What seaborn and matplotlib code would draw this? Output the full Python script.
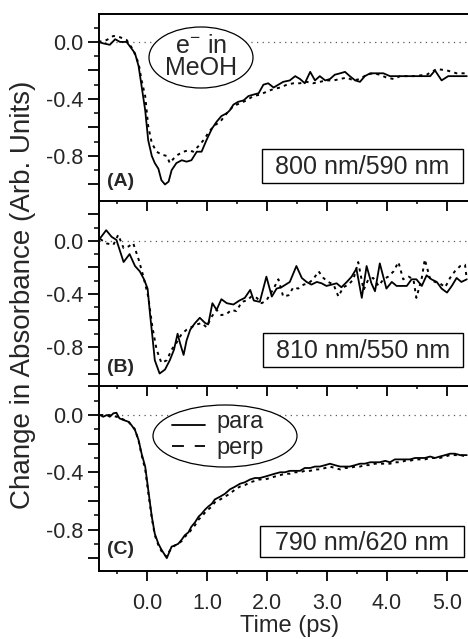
import numpy as np
import pandas as pd
import matplotlib
matplotlib.use("Agg")
import matplotlib.pyplot as plt
import seaborn as sns
from matplotlib.patches import Ellipse, Rectangle
from matplotlib.lines import Line2D

# ---------------- data ----------------
tA_para = [-0.81, -0.73, -0.62, -0.53, -0.45, -0.34, -0.26, -0.20, -0.14, -0.09, -0.03, 0.02, 0.08, 0.13,
           0.19, 0.24, 0.30, 0.36, 0.41, 0.49, 0.58, 0.66, 0.74, 0.83, 0.91, 0.99, 1.08, 1.16, 1.24, 1.33,
           1.38, 1.44, 1.52, 1.61, 1.69, 1.77, 1.86, 1.94, 2.02, 2.11, 2.19, 2.27, 2.38, 2.47, 2.55, 2.63,
           2.72, 2.80, 2.88, 2.97, 3.05, 3.13, 3.22, 3.30, 3.38, 3.47, 3.55, 3.63, 3.72, 3.83, 3.94, 4.05,
           4.22, 4.38, 4.55, 4.72, 4.80, 4.91, 5.02, 5.16, 5.33]
yA_para = [0.00, -0.01, -0.02, 0.019, 0.00, 0.00, -0.045, -0.08, -0.17, -0.31, -0.48, -0.69, -0.80, -0.85,
           -0.89, -0.97, -1.00, -0.98, -0.90, -0.85, -0.83, -0.84, -0.83, -0.77, -0.77, -0.69, -0.61, -0.56,
           -0.52, -0.50, -0.48, -0.44, -0.42, -0.41, -0.38, -0.37, -0.36, -0.30, -0.29, -0.32, -0.30, -0.28,
           -0.27, -0.24, -0.26, -0.29, -0.21, -0.27, -0.24, -0.27, -0.26, -0.23, -0.22, -0.21, -0.24, -0.27,
           -0.28, -0.24, -0.22, -0.22, -0.22, -0.24, -0.24, -0.24, -0.24, -0.24, -0.20, -0.27, -0.24, -0.24,
           -0.24]
tA_perp = [-0.81, -0.67, -0.56, -0.45, -0.34, -0.23, -0.14, -0.09, -0.03, 0.02, 0.08, 0.16, 0.24, 0.33,
           0.38, 0.44, 0.52, 0.61, 0.69, 0.77, 0.86, 0.94, 1.02, 1.11, 1.22, 1.33, 1.44, 1.55, 1.66, 1.77,
           1.88, 1.99, 2.11, 2.22, 2.33, 2.44, 2.55, 2.66, 2.77, 2.88, 2.99, 3.11, 3.22, 3.33, 3.44, 3.55,
           3.66, 3.77, 3.88, 3.99, 4.11, 4.22, 4.44, 4.66, 4.83, 5.00, 5.16, 5.33]
yA_perp = [0.00, 0.014, 0.042, 0.033, 0.014, -0.056, -0.15, -0.27, -0.38, -0.59, -0.71, -0.77, -0.79, -0.80,
           -0.85, -0.82, -0.79, -0.77, -0.76, -0.77, -0.73, -0.69, -0.64, -0.59, -0.56, -0.50, -0.45, -0.43,
           -0.41, -0.38, -0.37, -0.35, -0.33, -0.32, -0.30, -0.29, -0.29, -0.28, -0.29, -0.28, -0.27, -0.27,
           -0.26, -0.25, -0.27, -0.26, -0.23, -0.22, -0.23, -0.25, -0.26, -0.24, -0.24, -0.23, -0.19, -0.20,
           -0.22, -0.22]

tB_para = [-0.78, -0.68, -0.59, -0.51, -0.39, -0.29, -0.20, -0.12, -0.05, 0.01, 0.05, 0.09, 0.13, 0.21,
           0.30, 0.38, 0.45, 0.51, 0.55, 0.61, 0.66, 0.72, 0.80, 0.88, 0.97, 1.02, 1.09, 1.16, 1.24, 1.33,
           1.44, 1.54, 1.63, 1.72, 1.78, 1.88, 1.99, 2.08, 2.16, 2.24, 2.38, 2.49, 2.58, 2.66, 2.74, 2.83,
           2.91, 2.99, 3.08, 3.16, 3.24, 3.33, 3.41, 3.49, 3.58, 3.66, 3.74, 3.80, 3.88, 3.99, 4.08, 4.16,
           4.24, 4.33, 4.41, 4.49, 4.58, 4.66, 4.74, 4.83, 4.91, 5.00, 5.08, 5.16, 5.24, 5.33]
yB_para = [0.02, 0.08, 0.03, 0.007, -0.16, -0.10, -0.19, -0.23, -0.29, -0.36, -0.55, -0.72, -0.90, -1.00,
           -0.97, -0.90, -0.82, -0.70, -0.77, -0.86, -0.75, -0.67, -0.62, -0.58, -0.62, -0.63, -0.47, -0.52,
           -0.44, -0.47, -0.48, -0.45, -0.43, -0.37, -0.45, -0.46, -0.27, -0.42, -0.36, -0.35, -0.31, -0.19,
           -0.28, -0.31, -0.33, -0.31, -0.32, -0.34, -0.33, -0.32, -0.35, -0.31, -0.27, -0.21, -0.43, -0.19,
           -0.32, -0.38, -0.17, -0.36, -0.31, -0.34, -0.34, -0.34, -0.29, -0.29, -0.34, -0.26, -0.29, -0.31,
           -0.36, -0.39, -0.34, -0.28, -0.31, -0.29]
tB_perp = [-0.78, -0.67, -0.56, -0.48, -0.39, -0.31, -0.23, -0.14, -0.06, 0.02, 0.09, 0.16, 0.24, 0.33,
           0.41, 0.49, 0.58, 0.66, 0.74, 0.83, 0.91, 0.99, 1.08, 1.16, 1.24, 1.33, 1.41, 1.49, 1.58, 1.66,
           1.74, 1.83, 1.91, 1.99, 2.11, 2.19, 2.27, 2.36, 2.44, 2.52, 2.61, 2.69, 2.77, 2.86, 2.94, 3.02,
           3.11, 3.19, 3.27, 3.36, 3.44, 3.52, 3.61, 3.69, 3.77, 3.86, 3.94, 4.02, 4.11, 4.19, 4.27, 4.36,
           4.44, 4.49, 4.58, 4.63, 4.72, 4.80, 4.88, 4.97, 5.05, 5.13, 5.22, 5.30, 5.33]
yB_perp = [0.013, -0.02, -0.03, 0.045, -0.055, -0.043, -0.018, -0.14, -0.27, -0.42, -0.65, -0.82, -0.92, -0.90,
           -0.82, -0.77, -0.70, -0.67, -0.65, -0.63, -0.62, -0.65, -0.57, -0.52, -0.56, -0.55, -0.52, -0.53,
           -0.46, -0.45, -0.42, -0.43, -0.47, -0.45, -0.36, -0.29, -0.42, -0.41, -0.35, -0.36, -0.33, -0.32,
           -0.29, -0.23, -0.28, -0.31, -0.33, -0.42, -0.35, -0.33, -0.29, -0.16, -0.37, -0.29, -0.28, -0.34,
           -0.29, -0.27, -0.23, -0.16, -0.29, -0.27, -0.29, -0.43, -0.28, -0.14, -0.29, -0.31, -0.32, -0.35,
           -0.28, -0.23, -0.19, -0.18, -0.29]

tC_para = [-0.78, -0.73, -0.67, -0.62, -0.56, -0.51, -0.46, -0.39, -0.31, -0.26, -0.20, -0.14, -0.09, -0.03,
           0.02, 0.08, 0.13, 0.19, 0.24, 0.30, 0.33, 0.36, 0.41, 0.47, 0.52, 0.58, 0.63, 0.69, 0.74, 0.80,
           0.86, 0.91, 0.97, 1.02, 1.08, 1.13, 1.22, 1.30, 1.38, 1.47, 1.55, 1.63, 1.72, 1.80, 1.88, 1.97,
           2.05, 2.13, 2.22, 2.30, 2.38, 2.47, 2.55, 2.63, 2.72, 2.80, 2.88, 2.97, 3.05, 3.13, 3.22, 3.30,
           3.38, 3.47, 3.55, 3.63, 3.72, 3.80, 3.88, 3.97, 4.05, 4.13, 4.22, 4.30, 4.38, 4.47, 4.55, 4.63,
           4.72, 4.80, 4.88, 4.97, 5.05, 5.13, 5.22, 5.33]
yC_para = [0.00, -0.012, 0.00, -0.012, 0.012, 0.016, -0.023, -0.035, -0.047, -0.07, -0.105, -0.175, -0.27,
           -0.36, -0.52, -0.71, -0.83, -0.90, -0.94, -0.98, -1.00, -0.97, -0.92, -0.91, -0.90, -0.87, -0.84,
           -0.82, -0.78, -0.75, -0.71, -0.69, -0.66, -0.64, -0.62, -0.59, -0.57, -0.55, -0.52, -0.50, -0.48,
           -0.47, -0.45, -0.44, -0.44, -0.43, -0.42, -0.41, -0.40, -0.40, -0.39, -0.39, -0.39, -0.37, -0.37,
           -0.36, -0.36, -0.35, -0.34, -0.35, -0.36, -0.36, -0.36, -0.35, -0.34, -0.34, -0.33, -0.33, -0.33,
           -0.32, -0.33, -0.31, -0.31, -0.31, -0.31, -0.30, -0.30, -0.30, -0.29, -0.30, -0.29, -0.28, -0.27,
           -0.27, -0.28, -0.28]
tC_perp = [-0.78, -0.60, -0.45, -0.30, -0.20, -0.14, -0.09, -0.03, 0.02, 0.08, 0.13, 0.19, 0.24, 0.30, 0.33,
           0.36, 0.41, 0.47, 0.52, 0.58, 0.63, 0.69, 0.74, 0.80, 0.86, 0.91, 0.97, 1.02, 1.08, 1.13, 1.22,
           1.30, 1.38, 1.47, 1.55, 1.63, 1.72, 1.80, 1.88, 1.97, 2.05, 2.13, 2.22, 2.30, 2.38, 2.47, 2.55,
           2.63, 2.72, 2.80, 2.88, 2.97, 3.05, 3.13, 3.22, 3.30, 3.38, 3.47, 3.55, 3.63, 3.72, 3.80, 3.88,
           3.97, 4.05, 4.13, 4.22, 4.30, 4.38, 4.47, 4.55, 4.63, 4.72, 4.80, 4.88, 4.97, 5.05, 5.13, 5.22,
           5.33]
yC_perp = [0.00, 0.00, -0.02, -0.05, -0.10, -0.18, -0.28, -0.38, -0.54, -0.72, -0.84, -0.91, -0.95, -0.98,
           -0.99, -0.96, -0.93, -0.91, -0.90, -0.88, -0.85, -0.83, -0.80, -0.77, -0.73, -0.71, -0.68, -0.66,
           -0.64, -0.61, -0.59, -0.57, -0.55, -0.52, -0.50, -0.49, -0.47, -0.46, -0.45, -0.45, -0.44, -0.43,
           -0.42, -0.41, -0.41, -0.40, -0.40, -0.39, -0.39, -0.38, -0.38, -0.37, -0.36, -0.37, -0.38, -0.37,
           -0.37, -0.36, -0.36, -0.35, -0.35, -0.34, -0.34, -0.34, -0.34, -0.33, -0.33, -0.32, -0.32, -0.31,
           -0.31, -0.31, -0.30, -0.30, -0.30, -0.29, -0.28, -0.28, -0.28, -0.29]

panel_tags = ["(A)", "(B)", "(C)"]
wavelengths = ["800 nm/590 nm", "810 nm/550 nm", "790 nm/620 nm"]
ylims = [(-1.116, 0.196), (-1.094, 0.30), (-1.09, 0.203)]
xticks = [0, 1, 2, 3, 4, 5]
xticklabels = ["0.0", "1.0", "2.0", "3.0", "4.0", "5.0"]
legend_labels = ["para", "perp"]

# ---------------- style ----------------
sns.set_style("ticks")
plt.rcParams["font.family"] = ["Liberation Sans", "DejaVu Sans"]
plt.rcParams["mathtext.fontset"] = "custom"
plt.rcParams["mathtext.rm"] = "Liberation Sans"
plt.rcParams["mathtext.it"] = "Liberation Sans"
plt.rcParams["axes.unicode_minus"] = False

W, H = 468, 639
fig = plt.figure(figsize=(W / 100, H / 100), dpi=100)
fig.patch.set_facecolor("white")

def rect(top, bottom, left=99, right=480):
    return [left / W, 1 - bottom / H, (right - left) / W, (bottom - top) / H]

def fxy(px, py):
    return (px / W, 1 - py / H)

axes = [fig.add_axes(rect(14, 201)), fig.add_axes(rect(201, 386)), fig.add_axes(rect(386, 571))]

series = [((tA_para, yA_para), (tA_perp, yA_perp)),
          ((tB_para, yB_para), (tB_perp, yB_perp)),
          ((tC_para, yC_para), (tC_perp, yC_perp))]

for i, ax in enumerate(axes):
    (tp, yp), (tq, yq) = series[i]
    dfp = pd.DataFrame({"t": tp, "v": yp})
    dfq = pd.DataFrame({"t": tq, "v": yq})
    ax.axhline(0, color="0.35", lw=0.9, ls=(0, (1, 3.5)), zorder=1)
    sns.lineplot(data=dfq, x="t", y="v", ax=ax, color="black", lw=1.4,
                 linestyle=(0, (1.6, 2.2)), estimator=None, zorder=2)
    sns.lineplot(data=dfp, x="t", y="v", ax=ax, color="black", lw=1.3,
                 estimator=None, zorder=3)
    ax.set_xlim(-0.8, 5.55)
    ax.set_ylim(*ylims[i])
    ax.set_xlabel("")
    ax.set_ylabel("")
    ax.set_facecolor("white")
    for s in ["left", "bottom", "top"]:
        ax.spines[s].set_linewidth(1.4)
        ax.spines[s].set_color("black")
    ax.spines["right"].set_visible(False)
    if i > 0:
        ax.spines["top"].set_visible(False)
    ymaj = [v for v in [0.2, 0.0, -0.2, -0.4, -0.6, -0.8, -1.0] if ylims[i][0] < v < ylims[i][1]]
    ylab = {0.0: "0.0", -0.4: "-0.4", -0.8: "-0.8"}
    ax.set_yticks(ymaj)
    ax.set_yticklabels([ylab.get(v, "") for v in ymaj])
    ymin = [v for v in [0.1, -0.1, -0.3, -0.5, -0.7, -0.9] if ylims[i][0] < v < ylims[i][1]]
    ax.set_yticks(ymin, minor=True)
    ax.set_xticks(xticks)
    ax.set_xticks([-0.5, 0.5, 1.5, 2.5, 3.5, 4.5], minor=True)
    if i == 2:
        ax.set_xticklabels(xticklabels)
    else:
        ax.set_xticklabels([])
    ax.tick_params(axis="y", which="major", direction="out", length=8, width=1.3,
                   labelsize=15.5, pad=3, color="black")
    ax.tick_params(axis="y", which="minor", direction="out", length=3.5, width=1.1, color="black")
    ax.tick_params(axis="x", which="major", direction="out", length=7.5, width=1.3,
                   labelsize=15.5, pad=8, color="black")
    ax.tick_params(axis="x", which="minor", direction="out", length=2, width=1.1, color="black")
    ax.set_zorder(3 - i)

# wavelength boxes
boxes = [(262, 149, 463, 183), (263, 333, 463, 367), (260, 526, 464, 557)]
for (x0, y0, x1, y1), lab in zip(boxes, wavelengths):
    fx0, fy1 = fxy(x0, y0)
    fx1, fy0 = fxy(x1, y1)
    fig.add_artist(Rectangle((fx0, fy0), fx1 - fx0, fy1 - fy0, transform=fig.transFigure,
                             fc="white", ec="black", lw=1.0, zorder=10))
    cx, cy = fxy((x0 + x1) / 2, (y0 + y1) / 2 + 1)
    fig.text(cx, cy, lab, ha="center", va="center", fontsize=18, zorder=11)

# panel tags
for tag, py in zip(panel_tags, [181, 367, 550]):
    x, y = fxy(107, py)
    fig.text(x, y, tag, ha="left", va="center", fontsize=14, fontweight="bold", zorder=11)

# ellipse A
cx, cy = fxy(201, 57.5)
fig.add_artist(Ellipse((cx, cy), 104 / W, 61 / H, transform=fig.transFigure,
                       fc="white", ec="black", lw=0.9, zorder=10))
x, y = fxy(201, 46)
fig.text(x, y, r"e$^{-}$ in", ha="center", va="center", fontsize=18, zorder=11)
x, y = fxy(201, 68)
fig.text(x, y, "MeOH", ha="center", va="center", fontsize=18, zorder=11)

# ellipse C legend
cx, cy = fxy(225, 436)
fig.add_artist(Ellipse((cx, cy), 144 / W, 62 / H, transform=fig.transFigure,
                       fc="white", ec="black", lw=0.9, zorder=10))
for lab, py, ty, ls in zip(legend_labels, [425, 446], [422, 448], ["-", (0, (6.6, 6.0))]):
    xa, ya = fxy(172, py)
    xb, _ = fxy(205, py)
    fig.add_artist(Line2D([xa, xb], [ya, ya], transform=fig.transFigure, color="black",
                          lw=1.3, ls=ls, zorder=11))
    xt, yt = fxy(216, ty)
    fig.text(xt, yt, lab, ha="left", va="center", fontsize=17, zorder=11)

# axis titles
x, y = fxy(23, 295)
fig.text(x, y, "Change in Absorbance (Arb. Units)", rotation=90, ha="center", va="center", fontsize=20)
x, y = fxy(290, 626)
fig.text(x, y, "Time (ps)", ha="center", va="center", fontsize=17)

fig.savefig("out.png", dpi=100, facecolor="white")
